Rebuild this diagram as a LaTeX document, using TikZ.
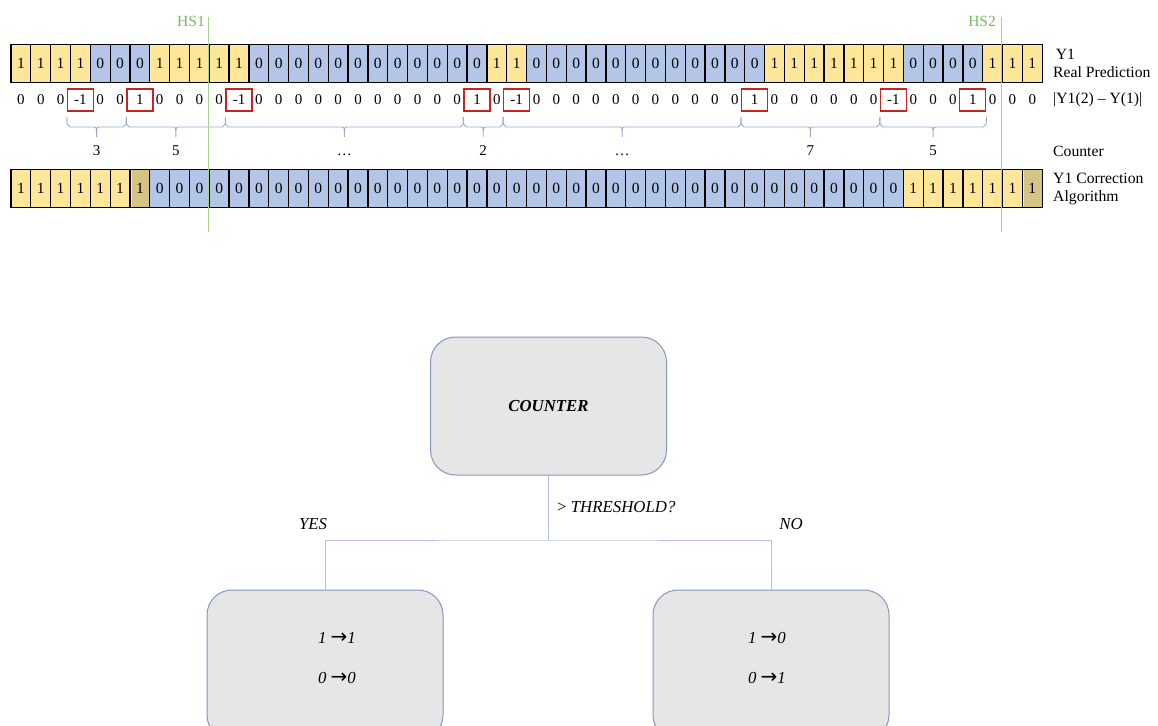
\documentclass[tikz,border=0pt]{standalone}
\usepackage{fontspec}
\setmainfont{Liberation Serif}
\newfontfamily\arwfont{DejaVu Sans}
\usetikzlibrary{calc}
\definecolor{ylw}{RGB}{255,230,153}
\definecolor{blu}{RGB}{180,198,231}
\definecolor{tanc}{RGB}{214,196,132}
\definecolor{flagred}{RGB}{200,35,35}
\definecolor{brcblue}{RGB}{150,170,210}
\definecolor{hsgreen}{RGB}{169,209,142}
\definecolor{hstext}{RGB}{120,185,100}
\definecolor{boxfill}{RGB}{230,230,230}
\definecolor{boxline}{RGB}{132,151,190}
\definecolor{linkblue}{RGB}{180,193,225}
\newcommand{\flip}{{\arwfont\upshape\fontsize{20}{20}\selectfont →}}
\begin{document}
\begin{tikzpicture}[x=1pt,y=-1pt,
  cell/.style={draw=black,line width=1.3pt,minimum width=19.83pt,minimum height=38pt,inner sep=0pt,font=\fontsize{15.5}{18}\selectfont},
  cell1/.style={cell,fill=ylw},
  cell0/.style={cell,fill=blu},
  cellh/.style={cell,fill=tanc,path picture={\draw[line width=4pt,white!65!tanc] (path picture bounding box.north west) -- (path picture bounding box.south west);}},
  diff/.style={inner sep=0pt,font=\fontsize{15}{18}\selectfont},
  flag/.style={draw=flagred,line width=1.2pt,minimum width=26pt,minimum height=22pt,inner sep=0pt},
  brc/.style={draw=brcblue,line width=0.9pt},
  cnt/.style={anchor=base,inner sep=0pt,font=\fontsize{15}{18}\selectfont},
  lbl/.style={anchor=west,align=left,inner sep=0pt,font=\fontsize{15.7}{18}\selectfont},
  hs/.style={draw=hsgreen,line width=0.8pt},
  hslbl/.style={anchor=east,inner sep=0pt,text=hstext,font=\fontsize{15.5}{18}\selectfont},
  roundbox/.style={draw=boxline,fill=boxfill,rounded corners=25pt,line width=1pt,minimum width=236pt},
  link/.style={draw=linkblue,line width=1pt},
  ital/.style={inner sep=0pt,font=\fontsize{16.8}{20}\selectfont\itshape}]
 \clip (0,0) rectangle (1158,725);
 \foreach \v [count=\i from 0] in {1,1,1,1,0,0,0,1,1,1,1,1,0,0,0,0,0,0,0,0,0,0,0,0,1,1,0,0,0,0,0,0,0,0,0,0,0,0,1,1,1,1,1,1,1,0,0,0,0,1,1,1}
   \node[cell\v] (a\i) at ({20.92+19.83*\i},63.5) {\v};
 \foreach \v [count=\i from 0] in {0,0,0,-1,0,0,1,0,0,0,0,-1,0,0,0,0,0,0,0,0,0,0,0,1,0,-1,0,0,0,0,0,0,0,0,0,0,0,1,0,0,0,0,0,0,-1,0,0,0,1,0,0,0}
   \node[diff] (d\i) at ({20.92+19.83*\i},100) {\v};
 \foreach \i in {3,6,11,23,25,37,44,48}
   \node[flag] (f\i) at (d\i) {};
 \foreach \a/\b/\e/\lab in {3/6/west/3,6/11/west/5,11/23/west/\dots,23/25/west/2,25/37/west/\dots,37/44/west/7,44/48/east/5}
   \draw[brc] let \p1=(f\a.west), \p2=(f\b.\e), \n1={(\x1+\x2)/2} in
     (\x1,117) .. controls (\x1,125) .. (\x1+3pt,127) -- (\n1-3,127) .. controls (\n1,127) .. (\n1,137) node[cnt,yshift=-18pt] {\lab}
     (\n1,137) .. controls (\n1,127) .. (\n1+3,127) -- (\x2-3pt,127) .. controls (\x2,125) .. (\x2,117);
 \foreach \v [count=\i from 0] in {1,1,1,1,1,1,h,0,0,0,0,0,0,0,0,0,0,0,0,0,0,0,0,0,0,0,0,0,0,0,0,0,0,0,0,0,0,0,0,0,0,0,0,0,0,1,1,1,1,1,1,h}
   \node[cell\v] (c\i) at ({20.92+19.83*\i},188.5) {\if h\v 1\else\v\fi};
 \draw[hs] (a10.north west |- 0,17) -- (c10.south west |- 0,232);
 \draw[hs] (a50.north west |- 0,17) -- (c50.south west |- 0,232);
 \node[hslbl] (hs1) at (205,21) {HS1};
 \node[hslbl] (hs2) at (996,21) {HS2};
 \node[lbl] (y1) at (1053,63) {\,Y1\\Real Prediction};
 \node[lbl] (dy) at (1053,100) {|Y1(2) – Y(1)|};
 \node[lbl] (ctr) at (1053,151) {Counter};
 \node[lbl] (y1c) at (1053,188.5) {Y1 Correction\\Algorithm};
 \node[roundbox,minimum height=138pt] (counter) at (548.5,406) {\fontsize{16.8}{20}\selectfont\bfseries\itshape COUNTER};
 \node[roundbox,minimum height=150pt] (yes) at (325,665) {};
 \node[roundbox,minimum height=150pt] (no) at (771,665) {};
 \coordinate (split) at (548.5,540);
 \draw[link] (counter) -- (split);
 \draw[link] (yes) |- (split) -| (no);
 \node[ital,anchor=west] (thr) at (557,507) {{\upshape >} THRESHOLD?};
 \node[ital] (yeslbl) at (313,524) {YES};
 \node[ital] (nolbl) at (791,524) {NO};
 \node[ital] (y11) at (337,638) {1 \flip1};
 \node[ital] (y00) at (337,678) {0 \flip0};
 \node[ital] (n10) at (767,638) {1 \flip0};
 \node[ital] (n01) at (767,678) {0 \flip1};
\end{tikzpicture}
\end{document}
